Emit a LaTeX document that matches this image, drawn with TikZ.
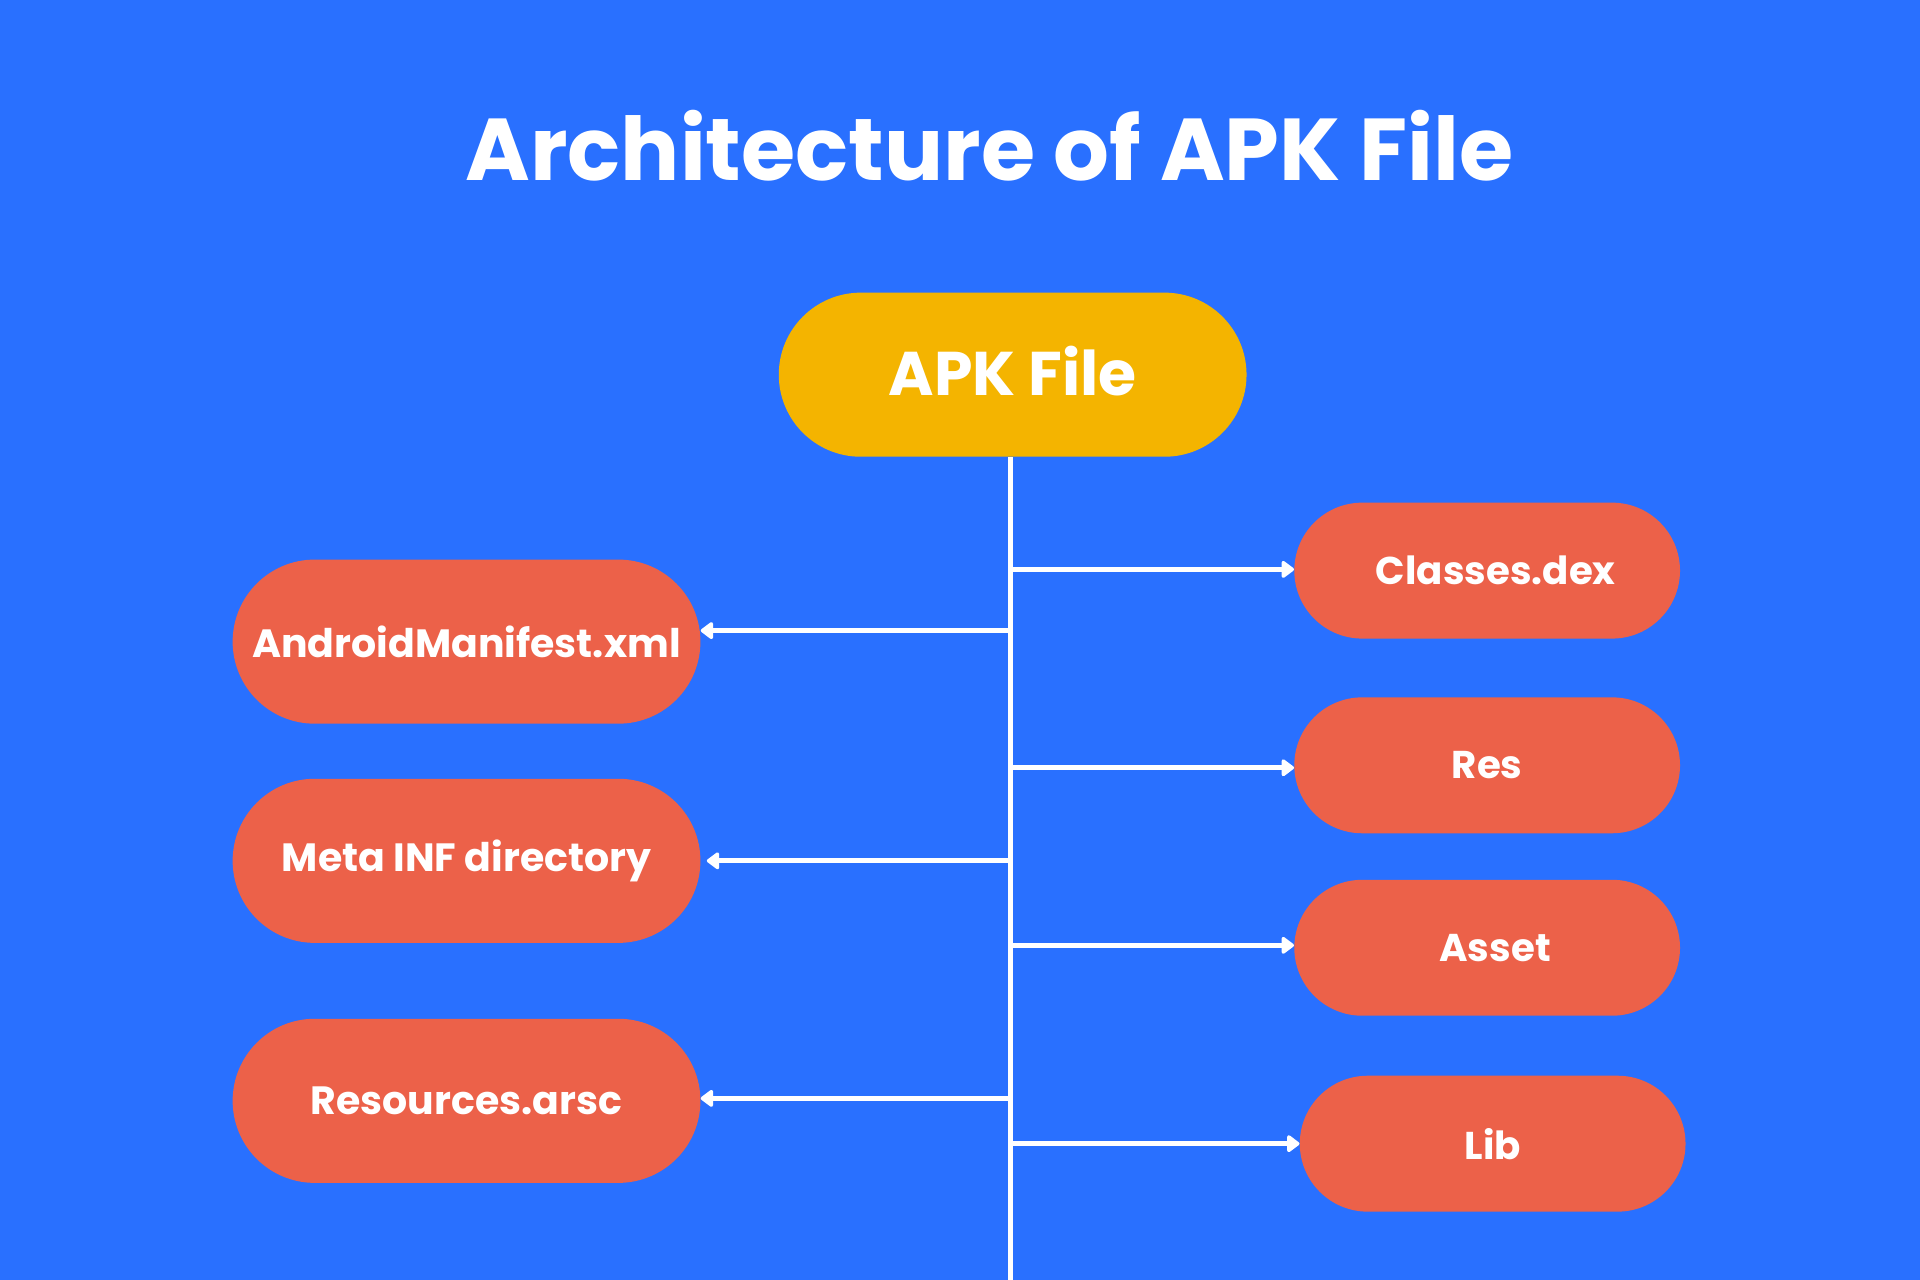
\documentclass[tikz,border=0pt]{standalone}
\usepackage{fontspec}
\setmainfont{Poppins}
\usetikzlibrary{arrows.meta}
\definecolor{bg}{HTML}{2970FF}
\definecolor{apky}{HTML}{F4B400}
\definecolor{nred}{HTML}{EC6149}
\begin{document}
\begin{tikzpicture}[x=0.03cm,y=-0.03cm,
  lbl/.style={text=white,font=\bfseries\fontsize{#1}{#1}\selectfont},
  pillR/.style={fill=nred,text=white,inner sep=0pt,rounded corners=1.665cm,minimum width=9.45cm,minimum height=3.33cm,font=\bfseries\fontsize{27}{30}\selectfont},
  pillL/.style={fill=nred,text=white,inner sep=0pt,rounded corners=2.01cm,minimum width=11.46cm,minimum height=4.02cm,font=\bfseries\fontsize{27.5}{30}\selectfont},
  pillY/.style={fill=apky,text=white,inner sep=0pt,rounded corners=2.01cm,minimum width=11.46cm,minimum height=4.02cm,font=\bfseries\fontsize{43}{48}\selectfont},
  link/.style={white,line width=3.3pt},
  arr/.style={white,line width=3.4pt,-{Triangle[length=9.5pt,width=13.5pt,round]}}]
\fill[bg] (0,0) rectangle (1568,1045);
\useasboundingbox (0,0) rectangle (1568,1045);
\node[lbl=61.2] (title) at (808,119) {Architecture of APK File};
\node[pillY] (apk) at (827,306) {\raisebox{6pt}{APK File}};
\node[pillR] (cls) at (1214.5,466) {\hspace*{12pt}Classes.dex};
\node[pillR] (res) at (1214.5,625) {Res};
\node[pillR] (ast) at (1214.5,774) {\hspace*{11pt}Asset};
\node[pillR] (lib) at (1219,934) {Lib};
\node[pillL] (am) at (381,524) {AndroidManifest.xml};
\node[pillL] (meta) at (381,703) {Meta INF directory};
\node[pillL] (rsc) at (381,899) {Resources.arsc};
\coordinate (bot) at (825,1045);
\draw[link] (apk.south -| bot) -- (bot);
\draw[arr] (bot |- 0,465) -- (cls.west |- 0,465);
\draw[arr] (bot |- 0,627) -- (res.west |- 0,627);
\draw[arr] (bot |- 0,772) -- (ast.west |- 0,772);
\draw[arr] (bot |- 0,934) -- (lib.west);
\draw[arr] (bot |- 0,515) -- (am.east |- 0,515);
\draw[arr] (bot |- 0,703) -- ([xshift=0.15cm]meta.east);
\draw[arr] (bot |- 0,897) -- (rsc.east |- 0,897);
\end{tikzpicture}
\end{document}
